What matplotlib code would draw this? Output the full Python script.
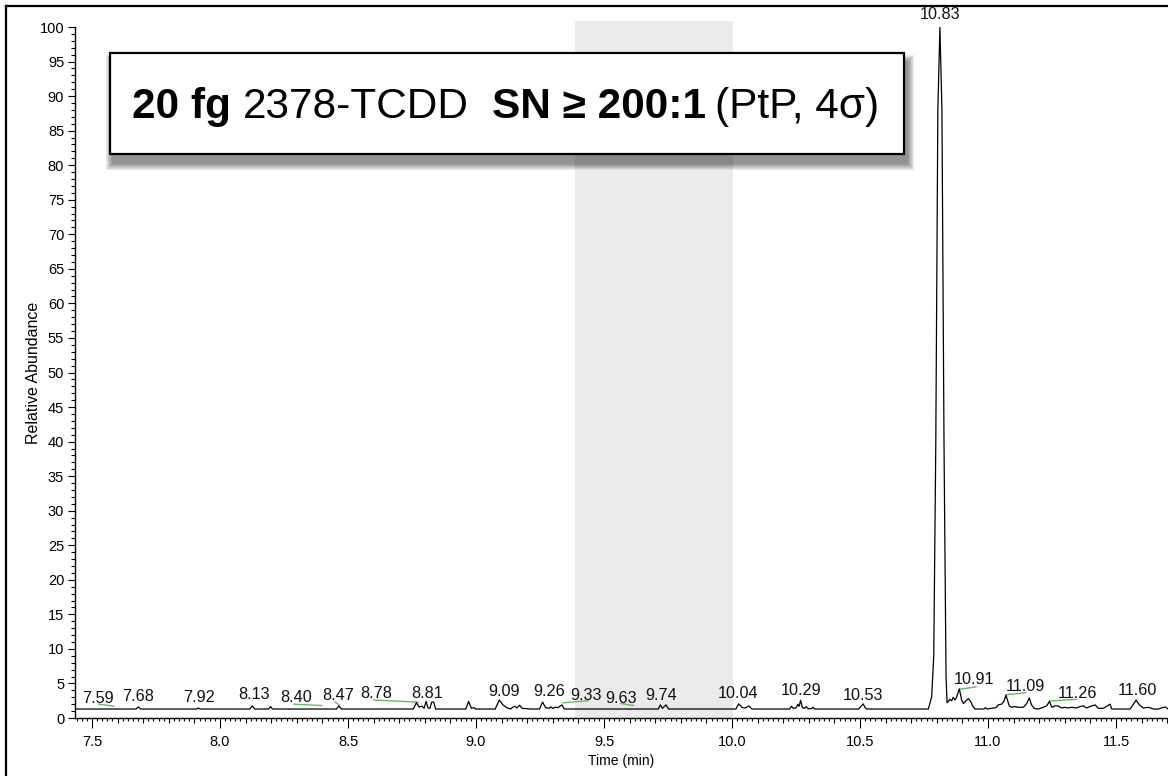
import numpy as np
import matplotlib
matplotlib.use("Agg")
import matplotlib.pyplot as plt
from matplotlib.patches import Rectangle
from matplotlib.lines import Line2D
from matplotlib.ticker import MultipleLocator, FuncFormatter

plt.rcParams['font.family'] = ['Liberation Sans', 'DejaVu Sans']

# chromatogram trace (time in min, relative abundance)
rt = [7.434, 7.672, 7.681, 7.690, 7.908, 7.915, 7.922, 8.116, 8.126, 8.136,
      8.190, 8.197, 8.205, 8.455, 8.464, 8.474, 8.755, 8.767, 8.778, 8.790,
      8.797, 8.805, 8.812, 8.820, 8.827, 8.835, 8.842, 8.960, 8.971, 8.982,
      8.992, 8.998, 9.075, 9.091, 9.105, 9.120, 9.135, 9.145, 9.152, 9.160,
      9.170, 9.180, 9.198, 9.210, 9.248, 9.260, 9.272, 9.285, 9.293, 9.300,
      9.310, 9.320, 9.336, 9.345, 9.712, 9.720, 9.728, 9.742, 9.752, 10.015,
      10.026, 10.040, 10.052, 10.066, 10.078, 10.225, 10.232, 10.240, 10.250, 10.257,
      10.262, 10.268, 10.275, 10.283, 10.290, 10.297, 10.310, 10.316, 10.323, 10.495,
      10.505, 10.512, 10.520, 10.527, 10.767, 10.780, 10.788, 10.796, 10.804, 10.812,
      10.820, 10.828, 10.836, 10.840, 10.845, 10.851, 10.858, 10.864, 10.871, 10.877,
      10.888, 10.897, 10.904, 10.917, 10.923, 10.932, 10.940, 10.949, 10.984, 10.990,
      10.996, 11.031, 11.040, 11.053, 11.062, 11.070, 11.076, 11.083, 11.092, 11.105,
      11.118, 11.138, 11.151, 11.161, 11.170, 11.180, 11.196, 11.216, 11.229, 11.240,
      11.249, 11.262, 11.274, 11.287, 11.300, 11.313, 11.326, 11.346, 11.359, 11.372,
      11.385, 11.398, 11.418, 11.431, 11.450, 11.466, 11.477, 11.483, 11.555, 11.568,
      11.578, 11.591, 11.607, 11.626, 11.646, 11.666, 11.677, 11.693, 11.703]
abund = [1.3, 1.3, 1.6, 1.3, 1.3, 1.45, 1.3, 1.3, 1.75, 1.3,
         1.3, 1.65, 1.3, 1.3, 1.75, 1.3, 1.3, 2.2, 1.6, 1.7,
         1.4, 2.4, 1.5, 1.4, 2.3, 2.3, 1.3, 1.3, 2.4, 1.4,
         1.5, 1.3, 1.3, 2.6, 1.9, 1.5, 1.3, 1.6, 1.7, 1.45,
         1.85, 1.4, 1.35, 1.3, 1.3, 2.3, 1.5, 1.4, 1.6, 1.4,
         1.55, 1.5, 1.9, 1.3, 1.3, 1.9, 1.4, 1.9, 1.3, 1.3,
         2.05, 1.5, 1.45, 1.75, 1.3, 1.3, 1.7, 1.4, 1.45, 2.0,
         1.7, 2.55, 1.5, 1.4, 1.65, 1.35, 1.35, 1.55, 1.3, 1.3,
         1.75, 2.05, 1.5, 1.3, 1.3, 3.1, 9.0, 40.0, 88.0, 100.0,
         88.0, 40.0, 6.0, 2.2, 2.4, 2.7, 2.5, 3.0, 2.6, 3.0,
         4.2, 2.6, 2.1, 2.6, 2.8, 2.4, 1.75, 1.3, 1.3, 1.5,
         1.3, 1.5, 1.9, 2.0, 2.4, 3.3, 2.6, 1.75, 1.55, 1.65,
         1.55, 1.55, 2.1, 2.9, 1.9, 1.4, 1.3, 1.55, 1.75, 2.4,
         1.55, 1.75, 1.75, 1.45, 1.55, 1.45, 1.55, 1.45, 1.65, 1.75,
         1.45, 1.65, 1.9, 1.4, 1.4, 1.75, 2.0, 1.3, 1.3, 2.0,
         2.6, 1.9, 1.45, 1.55, 1.3, 1.3, 1.45, 1.6, 1.3]

# peak labels: text, anchor time, anchor height
peak_text = ["7.59", "7.68", "7.92", "8.13", "8.40", "8.47", "8.78", "8.81",
             "9.09", "9.26", "9.33", "9.63", "9.74", "10.04", "10.29", "10.53",
             "10.83", "10.91", "11.09", "11.26", "11.60"]
peak_x = [7.523, 7.681, 7.918, 8.133, 8.297, 8.460, 8.611, 8.810,
          9.111, 9.284, 9.428, 9.566, 9.724, 10.022, 10.268, 10.512,
          10.812, 10.945, 11.144, 11.349, 11.583]
peak_y = [2.8, 3.1, 3.0, 3.4, 2.9, 3.3, 3.6, 3.6,
          3.9, 3.8, 3.3, 2.8, 3.3, 3.5, 4.0, 3.3,
          101.8, 5.5, 4.6, 3.6, 4.0]

# short green integration marks under some labels
green_t0 = [7.526, 8.289, 8.450, 8.601, 9.340, 9.566, 10.888, 11.070, 11.240]
green_t1 = [7.586, 8.397, 8.465, 8.774, 9.438, 9.615, 10.953, 11.148, 11.346]
green_y0 = [2.0, 2.0, 2.3, 2.6, 2.2, 2.1, 4.15, 3.37, 2.46]
green_y1 = [1.7, 1.8, 1.9, 2.3, 2.5, 1.8, 4.5, 3.66, 2.70]

band = (9.385, 10.005)
xrange_ = (7.4336, 11.703)

W, H = 1168, 776
fig = plt.figure(figsize=(W / 100, H / 100), dpi=100)
fig.patch.set_facecolor('white')
ax = fig.add_axes([75 / W, 1 - 718 / H, 1 - 75 / W, (718 - 27) / H])

ax.axvspan(band[0], band[1], ymin=0, ymax=1.008, color='#ebebeb', lw=0,
           zorder=0, clip_on=False)
ax.plot(rt, abund, color='black', lw=0.9, zorder=3)
for a, b, c, d in zip(green_t0, green_t1, green_y0, green_y1):
    ax.plot([a, b], [c, d], color='#5cbf5c', lw=1.0, zorder=2)
for s, x, y in zip(peak_text, peak_x, peak_y):
    ax.text(x, y, s, ha='center', va='center', fontsize=11.7, color='#111111',
            clip_on=False, zorder=4)

ax.set_xlim(*xrange_)
ax.set_ylim(0, 100)
for side in ['top', 'right']:
    ax.spines[side].set_visible(False)
ax.spines['left'].set_linewidth(1.0)
ax.spines['bottom'].set_linewidth(1.0)
ax.patch.set_alpha(0)

ax.yaxis.set_major_locator(MultipleLocator(5))
ax.yaxis.set_minor_locator(MultipleLocator(1))
ax.xaxis.set_major_locator(MultipleLocator(0.1))
ax.xaxis.set_minor_locator(MultipleLocator(0.02))
ax.xaxis.set_major_formatter(FuncFormatter(
    lambda v, p: f"{v:.1f}" if abs(v * 2 - round(v * 2)) < 1e-6 else ""))
ax.tick_params(axis='y', which='major', length=4.8, width=0.8, pad=3, labelsize=10.5)
ax.tick_params(axis='y', which='minor', length=3, width=0.8)
ax.tick_params(axis='x', which='major', length=3.6, width=0.8, pad=8.3, labelsize=10.5)
ax.tick_params(axis='x', which='minor', length=2.2, width=0.8)
fig.canvas.draw()
for tk in ax.xaxis.get_major_ticks():
    v = tk.get_loc()
    if abs(v * 2 - round(v * 2)) < 1e-6:
        tk.tick1line.set_markersize(7.2)

ax.set_xlabel("Time (min)", fontsize=10, labelpad=4)
ax.set_ylabel("Relative Abundance", fontsize=11.5, labelpad=-1)

# figure border
fig.add_artist(Line2D([6 / W, 6 / W], [0, 1 - 6 / H], color='black', lw=1.6,
                      transform=fig.transFigure))
fig.add_artist(Line2D([6 / W, 1], [1 - 6 / H, 1 - 6 / H], color='black', lw=1.6,
                      transform=fig.transFigure))

# annotation box with a soft shadow
bx0, by0, bx1, by1 = 110, 53, 904, 154
for i in range(7, 0, -1):
    fig.add_artist(Rectangle(((bx0 + 3 - i) / W, 1 - (by1 + 9 + i) / H),
                             (bx1 - bx0 + 2 * i) / W, (by1 - by0 + 2 * i) / H,
                             transform=fig.transFigure, color='black',
                             alpha=0.075, lw=0, zorder=5))
fig.add_artist(Rectangle((bx0 / W, 1 - by1 / H), (bx1 - bx0) / W, (by1 - by0) / H,
                         transform=fig.transFigure, facecolor='white',
                         edgecolor='black', lw=1.6, zorder=6))

parts = [("20 fg", 'bold'), ("2378-TCDD", 'normal'), ("SN \u2265 200:1", 'bold'),
         ("(PtP, 4\u03c3)", 'normal')]
extra_gap = [0, 0, 12, -3]
r = fig.canvas.get_renderer()
probe1 = fig.text(0, 0, "xx", fontsize=30.5)
probe2 = fig.text(0, 0, "x x", fontsize=30.5)
space = probe2.get_window_extent(r).width - probe1.get_window_extent(r).width
probe1.remove()
probe2.remove()
x = 132
for (s, w), g in zip(parts, extra_gap):
    x += g
    t = fig.text(x / W, 1 - 118 / H, s, fontsize=30.5, fontweight=w,
                 va='baseline', ha='left', zorder=7)
    x += t.get_window_extent(r).width + space

fig.savefig("out.png", dpi=100)
